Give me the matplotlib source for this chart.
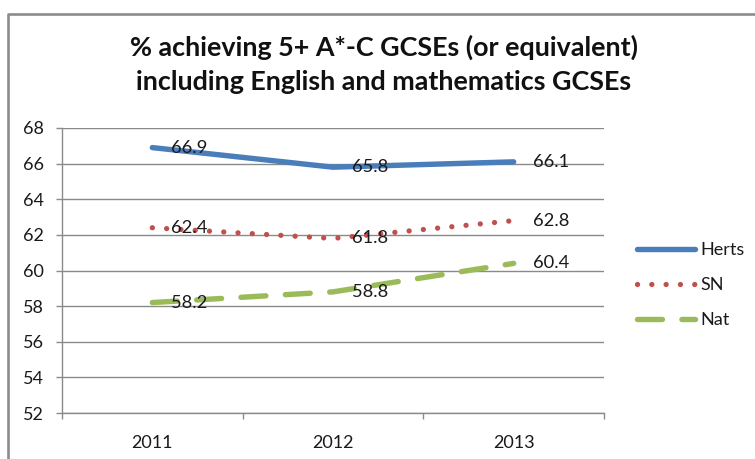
import matplotlib
matplotlib.use("Agg")
import matplotlib.pyplot as plt
from matplotlib.lines import Line2D

years = ["2011", "2012", "2013"]
herts = [66.9, 65.8, 66.1]
sn = [62.4, 61.8, 62.8]
nat = [58.2, 58.8, 60.4]
series_names = ["Herts", "SN", "Nat"]
y_ticks = [52, 54, 56, 58, 60, 62, 64, 66, 68]

title_lines = ["% achieving 5+ A*-C GCSEs (or equivalent)",
               "including English and mathematics GCSEs"]

W, H = 755, 459
fig = plt.figure(figsize=(W / 100, H / 100), dpi=100)
fig.patch.set_facecolor("white")

FONT = "Lato"
TXT = "#1a1a1a"
GRID = "#8a8a8a"

# plot area in pixel terms
left, right, top, bottom = 62, 604, 128, 413
ax = fig.add_axes([left / W, 1 - bottom / H, (right - left) / W, (bottom - top) / H])
ax.set_facecolor("white")

x = list(range(len(years)))
styles = [
    dict(color="#4a7ebb", lw=3.9, ls="-", solid_capstyle="round"),
    dict(color="#c0504d", lw=3.8, ls=(0, (0.01, 2.7)), dash_capstyle="round"),
    dict(color="#9bbb59", lw=3.9, ls=(0, (4.6, 3.6)), dash_capstyle="round"),
]
handles = []
for vals, name, st in zip([herts, sn, nat], series_names, styles):
    ln, = ax.plot(x, vals, label=name, zorder=3, **st)
    handles.append(ln)
    for xi, v in zip(x, vals):
        ax.annotate(f"{v:.1f}", (xi, v), xytext=(13.7, 0), textcoords="offset points",
                    ha="left", va="center", fontsize=13.2, family=FONT, color=TXT, zorder=4)

ax.set_xlim(-0.5, len(years) - 0.5)
ax.set_ylim(52, 68)
ax.set_yticks(y_ticks)
ax.set_yticklabels([str(t) for t in y_ticks], family=FONT, fontsize=13, color=TXT)
ax.set_xticks(x)
ax.set_xticklabels(years, family=FONT, fontsize=13, color=TXT)
ax.set_xticks([i - 0.5 for i in range(len(years) + 1)], minor=True)
ax.tick_params(axis="x", which="major", length=0, pad=16)
ax.tick_params(axis="x", which="minor", length=4, color=GRID, width=1, direction="out")
ax.tick_params(axis="y", which="major", length=4, color=GRID, width=1, pad=9)

ax.grid(axis="y", color=GRID, lw=1, zorder=0)
for s in ["top", "right"]:
    ax.spines[s].set_visible(False)
for s in ["left", "bottom"]:
    ax.spines[s].set_color(GRID)
    ax.spines[s].set_linewidth(1)

leg = fig.legend(handles=handles, labels=series_names, loc="center left",
                 bbox_to_anchor=(637 / W, 1 - 285 / H), frameon=False,
                 prop=dict(family=FONT, size=13), handlelength=3.2,
                 handletextpad=0.3, labelspacing=1.05, borderpad=0, borderaxespad=0)
for t in leg.get_texts():
    t.set_color(TXT)

# title
for i, line in enumerate(title_lines):
    fig.text(384 / W, 1 - (47 + 35 * i) / H, line, ha="center", va="center",
             family=FONT, fontweight="bold", fontsize=19.4, color="#111111")

# chart frame
fig.add_artist(Line2D([8 / W, 8 / W, 1.0], [0.0, 1 - 14 / H, 1 - 14 / H],
                      transform=fig.transFigure, color="#8c8c8c", lw=1.9))

fig.savefig("out.png", dpi=100, facecolor="white")
